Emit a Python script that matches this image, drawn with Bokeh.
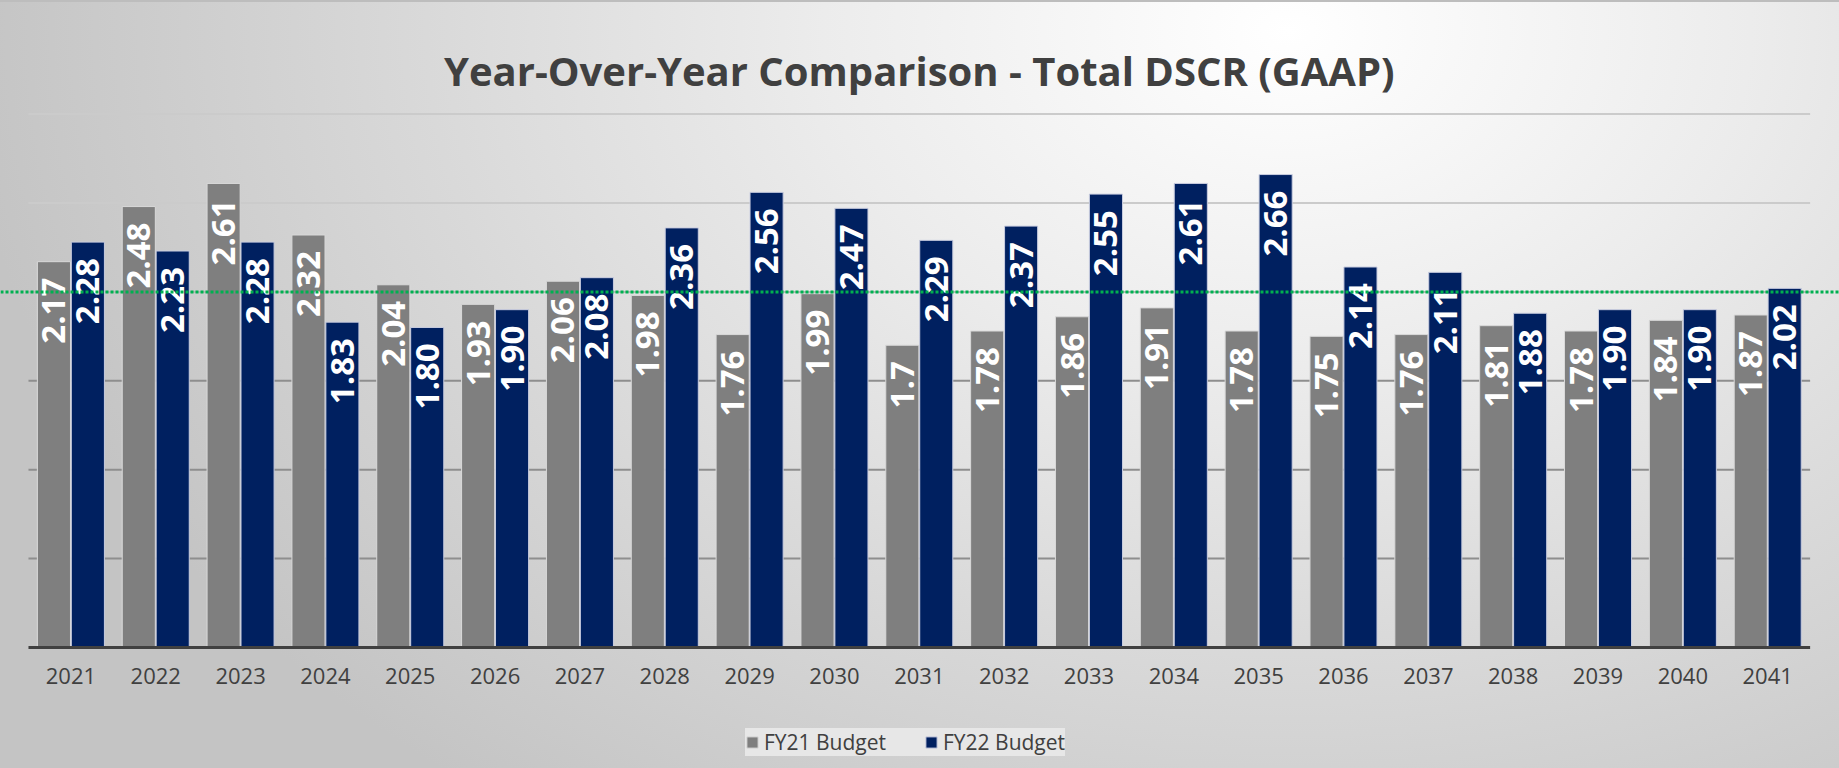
import numpy as np
from bokeh.plotting import figure
from bokeh.models import ColumnDataSource, Range1d, FixedTicker, Span, Legend, LegendItem, Label
from bokeh.transform import dodge
from bokeh.core.properties import value
from bokeh.embed import file_html
from bokeh.resources import INLINE

# ---------------- data ----------------
years = ["2021", "2022", "2023", "2024", "2025", "2026", "2027", "2028", "2029", "2030",
         "2031", "2032", "2033", "2034", "2035", "2036", "2037", "2038", "2039", "2040", "2041"]
fy21 = [2.17, 2.48, 2.61, 2.32, 2.04, 1.93, 2.06, 1.98, 1.76, 1.99,
        1.70, 1.78, 1.86, 1.91, 1.78, 1.75, 1.76, 1.81, 1.78, 1.84, 1.87]
fy22 = [2.28, 2.23, 2.28, 1.83, 1.80, 1.90, 2.08, 2.36, 2.56, 2.47,
        2.29, 2.37, 2.55, 2.61, 2.66, 2.14, 2.11, 1.88, 1.90, 1.90, 2.02]
fy21_labels = ["2.17", "2.48", "2.61", "2.32", "2.04", "1.93", "2.06", "1.98", "1.76", "1.99",
               "1.7", "1.78", "1.86", "1.91", "1.78", "1.75", "1.76", "1.81", "1.78", "1.84", "1.87"]
fy22_labels = ["2.28", "2.23", "2.28", "1.83", "1.80", "1.90", "2.08", "2.36", "2.56", "2.47",
               "2.29", "2.37", "2.55", "2.61", "2.66", "2.14", "2.11", "1.88", "1.90", "1.90", "2.02"]
series_names = ["FY21 Budget", "FY22 Budget"]
threshold = 2.0
grid_levels = [0.5, 1.0, 1.5, 2.0, 2.5, 3.0]
title_text = "Year-Over-Year Comparison - Total DSCR (GAAP)"

# ---------------- layout constants ----------------
W, H = 1839, 768
PX_PER_CAT = 84.84
X0_PX = 70.4            # pixel column of first category centre
PX_PER_UNIT = 177.8
ZERO_PX = 647           # pixel row of value 0 (from top)
grid_colors = ["#8e8e8e", "#8e8e8e", "#8e8e8e", "#b8b8b8", "#cbcbcb", "#cbcbcb"]

idx = list(range(len(years)))
src = ColumnDataSource(dict(x=idx, fy21=fy21, fy22=fy22, l21=fy21_labels, l22=fy22_labels))

x_range = Range1d(-X0_PX / PX_PER_CAT, (W - X0_PX) / PX_PER_CAT)
y_range = Range1d(-(H - ZERO_PX) / PX_PER_UNIT, ZERO_PX / PX_PER_UNIT)

p = figure(width=W, height=H, output_backend="svg", toolbar_location=None,
           x_range=x_range, y_range=y_range, y_axis_location=None,
           min_border_left=0, min_border_right=0, min_border_top=0, min_border_bottom=0)
p.background_fill_alpha = 0
p.border_fill_alpha = 0
p.outline_line_color = None
p.xgrid.visible = False
p.ygrid.visible = False
p.styles = {
    "background": "radial-gradient(ellipse 72% 125% at 70% 4%, #ffffff 0%, #ececec 35%, #d9d9d9 65%, #c4c4c4 100%)",
    "box-shadow": "inset 0 2px 0 #bdbdbd",
}

# gridlines limited to the category area
x_lo, x_hi = -0.5, len(years) - 0.5
p.segment(x0=[x_lo] * len(grid_levels), x1=[x_hi] * len(grid_levels), y0=grid_levels, y1=grid_levels,
          line_color=grid_colors, line_width=2)

r1 = p.vbar(x=dodge("x", -0.2, range=p.x_range), top="fy21", width=0.39, source=src,
            fill_color="#7f7f7f", line_color="#d9d9d9", line_width=1)
r2 = p.vbar(x=dodge("x", 0.2, range=p.x_range), top="fy22", width=0.39, source=src,
            fill_color="#002060", line_color="#c9cde0", line_width=1)

for col, lab, off in (("fy21", "l21", -0.2), ("fy22", "l22", 0.2)):
    p.text(x=dodge("x", off, range=p.x_range), y=col, text=lab, source=src,
           angle=np.pi / 2, text_align="right", text_baseline="middle", y_offset=16,
           text_color="white", text_font=value("Open Sans"), text_font_style="bold",
           text_font_size="33px")

# axis baseline
p.segment(x0=[x_lo], x1=[x_hi], y0=[0], y1=[0], line_color="#404040", line_width=3)

p.add_layout(Span(location=threshold, dimension="width", line_color="#00b050",
                  line_width=3, line_dash="3 2"))

p.add_layout(Label(x=(len(years) - 1) / 2, y=(ZERO_PX - 70) / PX_PER_UNIT, text=title_text,
                   text_align="center", text_baseline="alphabetic", text_font="Open Sans",
                   text_font_style="bold", text_font_size="40px", text_color="#404040"))

ax = p.xaxis[0]
ax.fixed_location = 0
ax.ticker = FixedTicker(ticks=idx)
ax.major_label_overrides = {i: y for i, y in enumerate(years)}
ax.axis_line_color = None
ax.major_tick_line_color = None
ax.minor_tick_line_color = None
ax.major_label_text_font = "Open Sans"
ax.major_label_text_font_size = "22px"
ax.major_label_text_color = "#404040"
ax.major_label_standoff = 14

legend = Legend(items=[LegendItem(label=series_names[0], renderers=[r1]),
                       LegendItem(label=series_names[1], renderers=[r2])],
                orientation="horizontal", location=(745, H - 756),
                background_fill_color="#e7e7e7", background_fill_alpha=1.0,
                border_line_color=None, label_text_font="Open Sans",
                label_text_font_size="21px", label_text_color="#404040",
                glyph_width=14, glyph_height=14, spacing=38, padding=13,
                label_standoff=5, margin=0)
p.add_layout(legend)

open("out.html", "w").write(file_html(p, INLINE))
